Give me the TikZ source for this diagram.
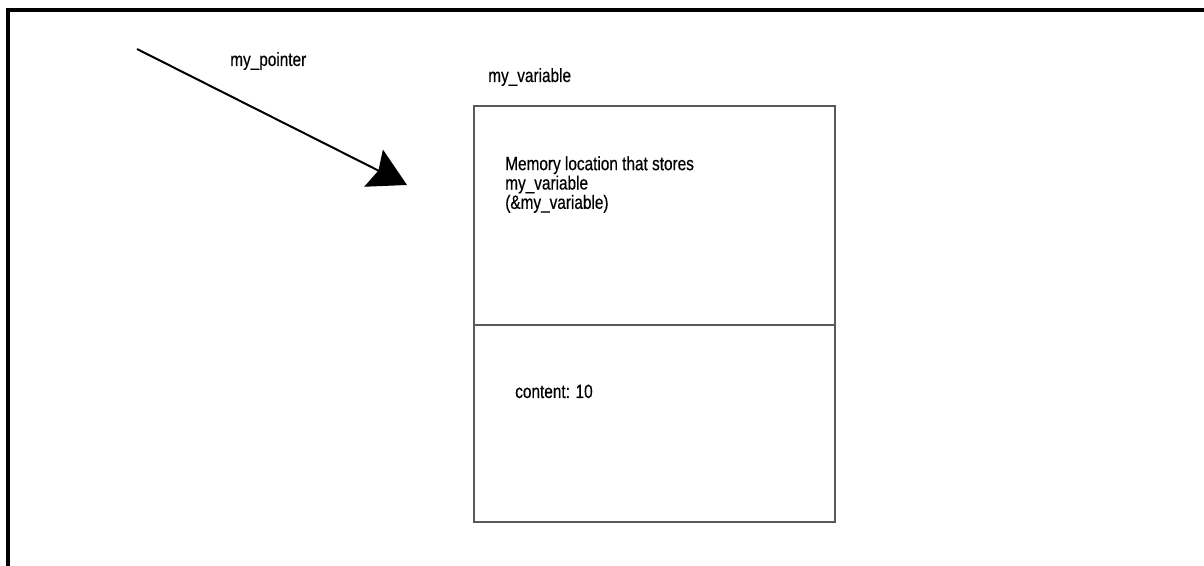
\documentclass[tikz,border=0pt]{standalone}
\usepackage{fontspec}
\setmainfont{Liberation Sans}[FakeStretch=0.8,FakeBold=0.4]
\usetikzlibrary{arrows.meta}
\begin{document}
\begin{tikzpicture}[x=0.75pt,y=-0.75pt,
  lbl/.style={inner sep=0pt, font=\fontsize{14.4}{14.5}\selectfont, text=black},
  cell/.style={draw=black!65, line width=1.1pt, minimum width=270.75pt, inner sep=0pt},
  frame/.style={line width=2.3pt, line join=miter},
  ptr/.style={line width=1.5pt, -{Stealth[length=28pt,width=31pt,inset=4pt]}}]
\useasboundingbox (0,0) rectangle (1204,566);
\draw[frame] (1204,10) -- (8,10) -- (8,566);
% memory cells
\node[cell, minimum height=164.25pt] (addr) at (654.5,215.5) {};
\node[cell, minimum height=147.75pt] (val) at (654.5,423.5) {};
% labels
\node[lbl, anchor=base west] (ptrlabel) at (230,66) {my\_pointer};
\node[lbl, anchor=base west] (varlabel) at (488,82) {my\_variable};
\node[lbl, anchor=north west, align=left] (memtext) at (505,156)
  {Memory location that stores\\my\_variable\\(\&my\_variable)};
\node[lbl, anchor=base west] (content) at (515,398) {content: 10};
% pointer arrow
\coordinate (ptrstart) at (137,49);
\coordinate (ptrend) at (407,185);
\draw[ptr] (ptrstart) -- (ptrend);
\end{tikzpicture}
\end{document}
